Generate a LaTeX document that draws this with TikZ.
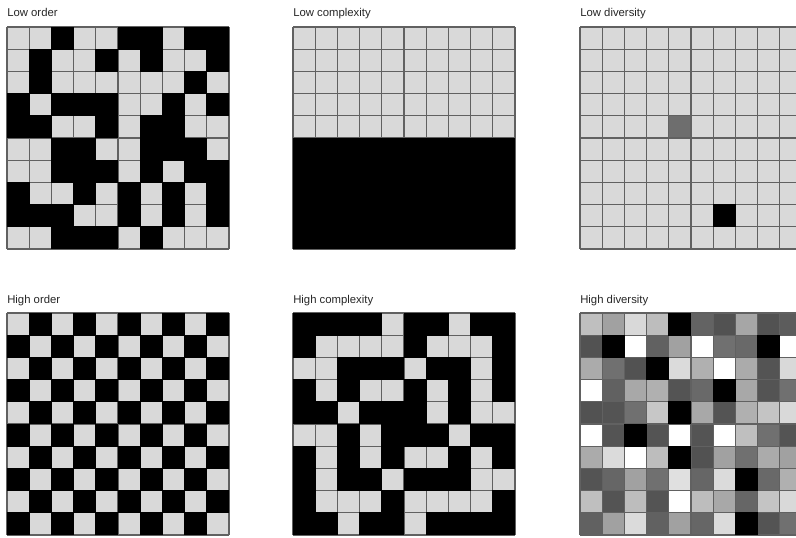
\documentclass[tikz,border=0pt]{standalone}
\usepackage{fontspec}
\setmainfont{Liberation Sans}
\newcommand\cellgrid[3]{%
  \foreach \row [count=\r from 0] in {#3} {
    \foreach \v [count=\c from 0] in \row {
      \fill[black!\v] ({#1+\c*22.2},{#2+\r*22.2}) rectangle ++(22.2,22.2);
    }
  }
  \foreach \i in {0,...,10} {
    \draw[gridline] ({#1+\i*22.2},#2) -- ++(0,222);
    \draw[gridline] (#1,{#2+\i*22.2}) -- ++(222,0);
  }
  \foreach \row [count=\r from 0] in {#3} {
    \foreach \v [count=\c from 0] in \row {
      \ifnum\v=100
        \fill[black] ({#1+\c*22.2-0.4},{#2+\r*22.2-0.4}) rectangle ++(23,23);
      \fi
    }
  }
}
\begin{document}
\begin{tikzpicture}[x=0.75pt,y=-0.75pt,
  gridline/.style={draw=black!62,line width=0.85pt},
  title/.style={anchor=base west,inner sep=0pt,font=\fontsize{8.5pt}{10pt}\selectfont,text=black!85}]
\useasboundingbox (0,0) rectangle (796,537);
\clip (0,0) rectangle (796,537);
% titles
\node[title] (t1) at (7,16) {Low order};
\node[title] (t2) at (293,16) {Low complexity};
\node[title] (t3) at (580,16) {Low diversity};
\node[title] (t4) at (7,303) {High order};
\node[title] (t5) at (293,303) {High complexity};
\node[title] (t6) at (580,303) {High diversity};
% Low order
\cellgrid{7}{27}{
{15,15,100,15,15,100,100,15,100,100},
{15,100,15,15,100,15,100,15,15,100},
{15,100,15,15,15,15,15,15,100,15},
{100,15,100,100,100,15,15,100,15,100},
{100,100,15,15,100,15,100,100,15,15},
{15,15,100,100,15,15,100,100,100,15},
{15,15,100,100,100,15,100,15,100,100},
{100,15,15,100,15,100,15,100,15,100},
{100,100,100,15,15,100,15,100,15,100},
{15,15,100,100,100,15,100,15,15,15}}
% Low complexity
\cellgrid{293}{27}{
{15,15,15,15,15,15,15,15,15,15},
{15,15,15,15,15,15,15,15,15,15},
{15,15,15,15,15,15,15,15,15,15},
{15,15,15,15,15,15,15,15,15,15},
{15,15,15,15,15,15,15,15,15,15},
{100,100,100,100,100,100,100,100,100,100},
{100,100,100,100,100,100,100,100,100,100},
{100,100,100,100,100,100,100,100,100,100},
{100,100,100,100,100,100,100,100,100,100},
{100,100,100,100,100,100,100,100,100,100}}
% Low diversity
\cellgrid{580}{27}{
{15,15,15,15,15,15,15,15,15,15},
{15,15,15,15,15,15,15,15,15,15},
{15,15,15,15,15,15,15,15,15,15},
{15,15,15,15,15,15,15,15,15,15},
{15,15,15,15,57,15,15,15,15,15},
{15,15,15,15,15,15,15,15,15,15},
{15,15,15,15,15,15,15,15,15,15},
{15,15,15,15,15,15,15,15,15,15},
{15,15,15,15,15,15,100,15,15,15},
{15,15,15,15,15,15,15,15,15,15}}
% High order
\cellgrid{7}{313}{
{15,100,15,100,15,100,15,100,15,100},
{100,15,100,15,100,15,100,15,100,15},
{15,100,15,100,15,100,15,100,15,100},
{100,15,100,15,100,15,100,15,100,15},
{15,100,15,100,15,100,15,100,15,100},
{100,15,100,15,100,15,100,15,100,15},
{15,100,15,100,15,100,15,100,15,100},
{100,15,100,15,100,15,100,15,100,15},
{15,100,15,100,15,100,15,100,15,100},
{100,15,100,15,100,15,100,15,100,15}}
% High complexity
\cellgrid{293}{313}{
{100,100,100,100,15,100,100,15,100,100},
{100,15,15,15,15,100,15,15,15,100},
{15,15,100,100,100,15,100,100,15,100},
{100,15,100,15,15,100,15,100,15,100},
{100,100,15,100,100,100,15,100,15,15},
{15,15,100,15,100,100,100,15,100,100},
{100,15,100,15,100,15,15,100,15,100},
{100,15,100,100,15,100,100,100,15,15},
{100,15,15,15,100,15,15,15,15,100},
{100,100,15,100,100,15,100,100,100,100}}
% High diversity
\cellgrid{580}{313}{
{25,37,15,26,100,61,68,35,68,64},
{68,100,0,62,37,0,56,59,100,0},
{33,56,68,100,14,31,0,33,67,15},
{0,62,34,31,67,59,100,34,67,56},
{68,67,56,22,100,34,67,31,23,15},
{0,67,100,67,0,67,0,25,56,67},
{33,14,0,26,100,68,37,56,33,37},
{67,60,37,56,12,60,14,100,59,31},
{25,67,26,67,0,26,34,60,23,15},
{62,37,14,62,37,60,14,100,67,56}}
\end{tikzpicture}
\end{document}
